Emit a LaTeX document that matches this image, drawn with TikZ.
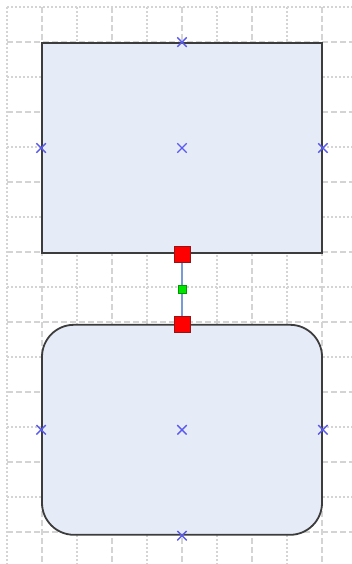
\documentclass[tikz,border=0pt]{standalone}
\usepackage{tikz}
\usetikzlibrary{positioning, shapes.misc}
\definecolor{boxfill}{RGB}{230,236,247}
\definecolor{boxline}{RGB}{60,60,60}
\definecolor{gridgray}{RGB}{212,212,212}
\definecolor{markblue}{RGB}{90,90,235}
\definecolor{linkblue}{RGB}{120,155,215}
\definecolor{handleline}{RGB}{150,20,20}
\tikzset{
    shapebox/.style={rectangle, minimum width=280pt, minimum height=210pt, draw=boxline, fill=boxfill, line width=1.8pt},
    roundbox/.style={shapebox, rounded corners=32pt},
    handle/.style={rectangle, minimum size=16pt, inner sep=0pt, draw=handleline, fill=red, line width=0.8pt},
    midhandle/.style={rectangle, minimum size=8pt, inner sep=0pt, draw=green!60!black, fill=green!90!black, line width=0.5pt},
    marker/.style={cross out, minimum size=8pt, inner sep=0pt, draw=markblue, line width=1.4pt},
    minorline/.style={gridgray, line width=1.3pt, dash pattern=on 2pt off 2pt},
    majorline/.style={gridgray, line width=1.3pt, dash pattern=on 6pt off 3pt},
    link/.style={linkblue, line width=1.8pt}
}

\begin{document}
\begin{tikzpicture}[x=1pt, y=-1pt]
    \useasboundingbox (0,0) rectangle (352,564);
    % grid
    \foreach \k in {0,...,9} {
        \pgfmathtruncatemacro{\odd}{mod(\k,2)}
        \ifnum\odd=1
            \draw [majorline] (7+35*\k,7) -- (7+35*\k,564);
        \else
            \draw [minorline] (7+35*\k,7) -- (7+35*\k,564);
        \fi
    }
    \foreach \k in {0,...,15} {
        \pgfmathtruncatemacro{\odd}{mod(\k,2)}
        \ifnum\odd=1
            \draw [majorline] (7,7+35*\k) -- (352,7+35*\k);
        \else
            \draw [minorline] (7,7+35*\k) -- (352,7+35*\k);
        \fi
    }

    \node (topbox) [shapebox] at (182,148) {};
    \node (botbox) [roundbox, below=70pt of topbox] {};

    \draw [link] (topbox.south) -- node[midhandle] (mid) {} (botbox.north);
    \node (topgrip) [handle] at (topbox.south) {};
    \node (botgrip) [handle] at (botbox.north) {};

    \node (tn) [marker] at (topbox.north) {};
    \node (tw) [marker] at (topbox.west) {};
    \node (tc) [marker] at (topbox.center) {};
    \node (te) [marker] at (topbox.east) {};
    \node (bw) [marker] at (botbox.west) {};
    \node (bc) [marker] at (botbox.center) {};
    \node (be) [marker] at (botbox.east) {};
    \node (bs) [marker] at (botbox.south) {};
\end{tikzpicture}
\end{document}
